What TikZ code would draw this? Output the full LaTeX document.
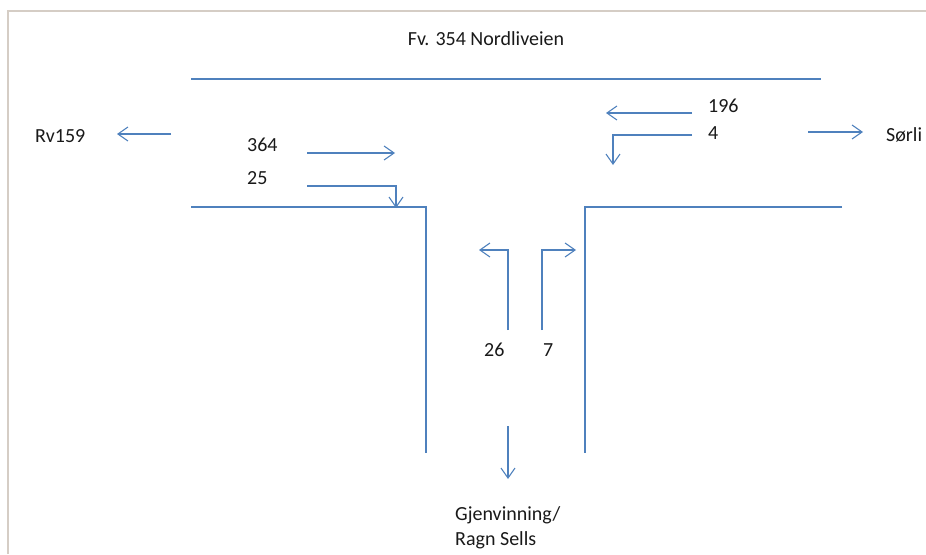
\documentclass[tikz,border=0pt]{standalone}
\usepackage{fontspec}
\setmainfont{Carlito}
\usetikzlibrary{arrows.meta}
\definecolor{roadblue}{HTML}{4F81BD}
\definecolor{framegray}{HTML}{D5CDC5}
\tikzset{
  road/.style={draw=roadblue, line width=1.4pt},
  flow/.style={draw=roadblue, line width=1.2pt, -{Straight Barb[length=10pt,width=14pt,line width=1.1pt]}},
  lbl/.style={font=\fontsize{20}{25}\selectfont, text=black!90, inner sep=0pt, anchor=base west},
  frame/.style={draw=framegray, line width=2pt}
}
\begin{document}
\begin{tikzpicture}[x=1pt,y=-1pt]
\useasboundingbox (0,0) rectangle (926,554);
% frame
\coordinate (fa) at (8,554);
\coordinate (fb) at (8,11);
\coordinate (fc) at (926,11);
\draw[frame] (fa) -- (fb) -- (fc);
% labels
\node[lbl, anchor=base] (title) at (486,45) {Fv. 354 Nordliveien};
\node[lbl] (rv) at (35,142) {Rv159};
\node[lbl] (sorli) at (886,141) {Sørli};
\node[lbl] (n364) at (247,151) {364};
\node[lbl] (n25) at (247,184) {25};
\node[lbl] (n196) at (708,112) {196};
\node[lbl] (n4) at (708,139) {4};
\node[lbl] (n26) at (484,356) {26};
\node[lbl] (n7) at (543,356) {7};
\node[lbl, align=left, anchor=north west] (gj) at (455,506) {Gjenvinning/\\Ragn Sells};
% roads
\coordinate (t1) at (191,79);
\coordinate (t2) at (821,79);
\draw[road] (t1) -- (t2);
\coordinate (l1) at (191,207);
\coordinate (l2) at (426,207);
\coordinate (l3) at (426,453);
\draw[road] (l1) -- (l2) -- (l3);
\coordinate (r1) at (842,207);
\coordinate (r2) at (585,207);
\coordinate (r3) at (585,453);
\draw[road] (r1) -- (r2) -- (r3);
% flows
\coordinate (a1s) at (171,134);
\coordinate (a1e) at (117,134);
\draw[flow] (a1s) -- (a1e);
\coordinate (a2s) at (307,153);
\coordinate (a2e) at (395,153);
\draw[flow] (a2s) -- (a2e);
\coordinate (a3s) at (307,186);
\coordinate (a3m) at (396,186);
\coordinate (a3e) at (396,208);
\draw[flow] (a3s) -- (a3m) -- (a3e);
\coordinate (a4s) at (692,113);
\coordinate (a4e) at (606,113);
\draw[flow] (a4s) -- (a4e);
\coordinate (a5s) at (692,135);
\coordinate (a5m) at (613,135);
\coordinate (a5e) at (613,165);
\draw[flow] (a5s) -- (a5m) -- (a5e);
\coordinate (a6s) at (808,132);
\coordinate (a6e) at (863,132);
\draw[flow] (a6s) -- (a6e);
\coordinate (a7s) at (508,330);
\coordinate (a7m) at (508,250);
\coordinate (a7e) at (479,250);
\draw[flow] (a7s) -- (a7m) -- (a7e);
\coordinate (a8s) at (542,330);
\coordinate (a8m) at (542,250);
\coordinate (a8e) at (576,250);
\draw[flow] (a8s) -- (a8m) -- (a8e);
\coordinate (a9s) at (508,426);
\coordinate (a9e) at (508,479);
\draw[flow] (a9s) -- (a9e);
\end{tikzpicture}
\end{document}
